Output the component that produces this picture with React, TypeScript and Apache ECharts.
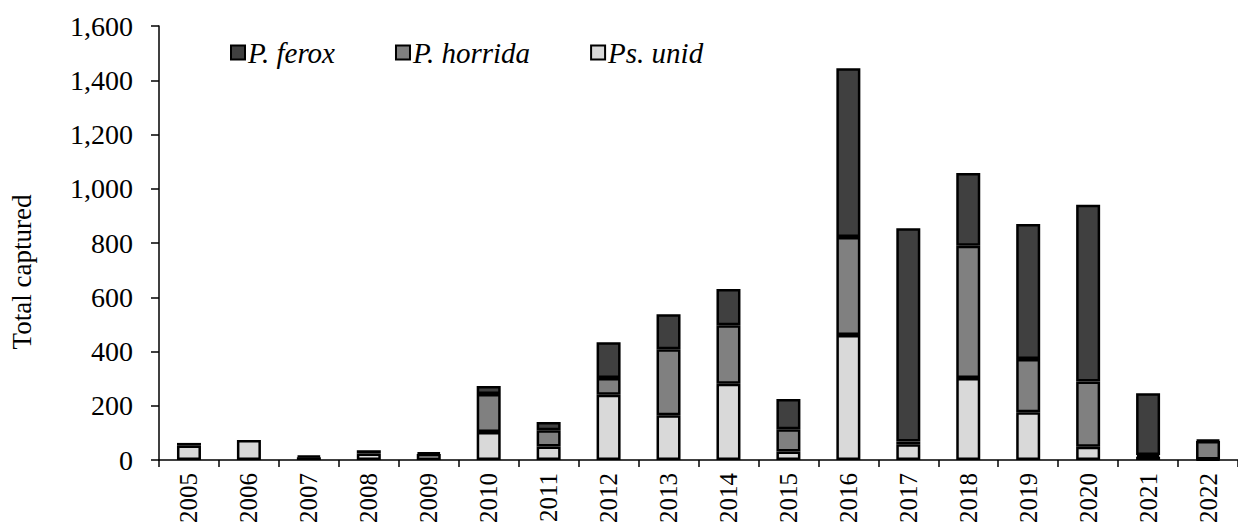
import React, { useEffect, useRef } from "react";
import * as echarts from "echarts";

const years = ["2005","2006","2007","2008","2009","2010","2011","2012","2013","2014","2015","2016","2017","2018","2019","2020","2021","2022"];
const psUnid = [53, 74, 10, 24, 22, 103, 50, 241, 165, 281, 31, 461, 58, 302, 176, 49, 12, 2];
const pHorrida = [0, 0, 0, 0, 0, 140, 60, 61, 243, 216, 82, 361, 10, 488, 196, 240, 6, 68];
const pFerox = [10, 0, 5, 12, 5, 30, 30, 132, 129, 133, 112, 622, 786, 268, 498, 652, 228, 4];
const yTicks = [0, 200, 400, 600, 800, 1000, 1200, 1400, 1600];

const FONT = "'Liberation Serif', 'Times New Roman', serif";

export default function App() {
  const ref = useRef<HTMLDivElement>(null);
  useEffect(() => {
    document.body.style.margin = "0";
    const chart = echarts.init(ref.current!, undefined, { renderer: "svg" });
    const mk = (name: string, data: number[], color: string) => ({
      name,
      type: "bar",
      stack: "total",
      data: data.map((v) => (v === 0 ? "-" : v)),
      barWidth: 24,
      itemStyle: { color, borderColor: "#000", borderWidth: 2.5 },
    });
    chart.setOption({
      animation: false,
      backgroundColor: "#fff",
      textStyle: { fontFamily: FONT },
      grid: { left: 159, top: 26, width: 1080, height: 434 },
      legend: {
        left: 225,
        top: 33,
        itemGap: 60,
        itemWidth: 14,
        itemHeight: 14,
        icon: "rect",
        data: ["P. ferox", "P. horrida", "Ps. unid"],
        textStyle: { fontFamily: FONT, fontSize: 29, fontStyle: "italic", color: "#000", padding: [0, 0, 0, -2] },
      },
      graphic: [
        {
          type: "text",
          x: 22,
          y: 272,
          rotation: Math.PI / 2,
          style: {
            text: "Total captured",
            fontFamily: FONT,
            fontSize: 27,
            fill: "#000",
            align: "center",
            verticalAlign: "middle",
          },
        },
      ],
      xAxis: {
        type: "category",
        data: years,
        boundaryGap: true,
        axisLine: { lineStyle: { color: "#000", width: 1.5 } },
        axisTick: { show: true, alignWithLabel: false, interval: 0, length: 7, lineStyle: { color: "#000", width: 1.5 } },
        axisLabel: { interval: 0, rotate: 90, margin: 13, fontFamily: FONT, fontSize: 25, color: "#000" },
      },
      yAxis: {
        type: "value",
        min: yTicks[0],
        max: yTicks[yTicks.length - 1],
        interval: 200,
        splitLine: { show: false },
        axisLine: { show: true, lineStyle: { color: "#000", width: 1.5 } },
        axisTick: { show: true, length: 8, lineStyle: { color: "#000", width: 1.5 } },
        axisLabel: {
          margin: 26,
          fontFamily: FONT,
          fontSize: 28,
          color: "#000",
          formatter: (v: number) => v.toLocaleString("en-US"),
        },
      },
      series: [
        mk("Ps. unid", psUnid, "#d9d9d9"),
        mk("P. horrida", pHorrida, "#808080"),
        mk("P. ferox", pFerox, "#404040"),
      ],
    });
    return () => chart.dispose();
  }, []);
  return <div ref={ref} style={{ width: 1238, height: 531 }} />;
}
